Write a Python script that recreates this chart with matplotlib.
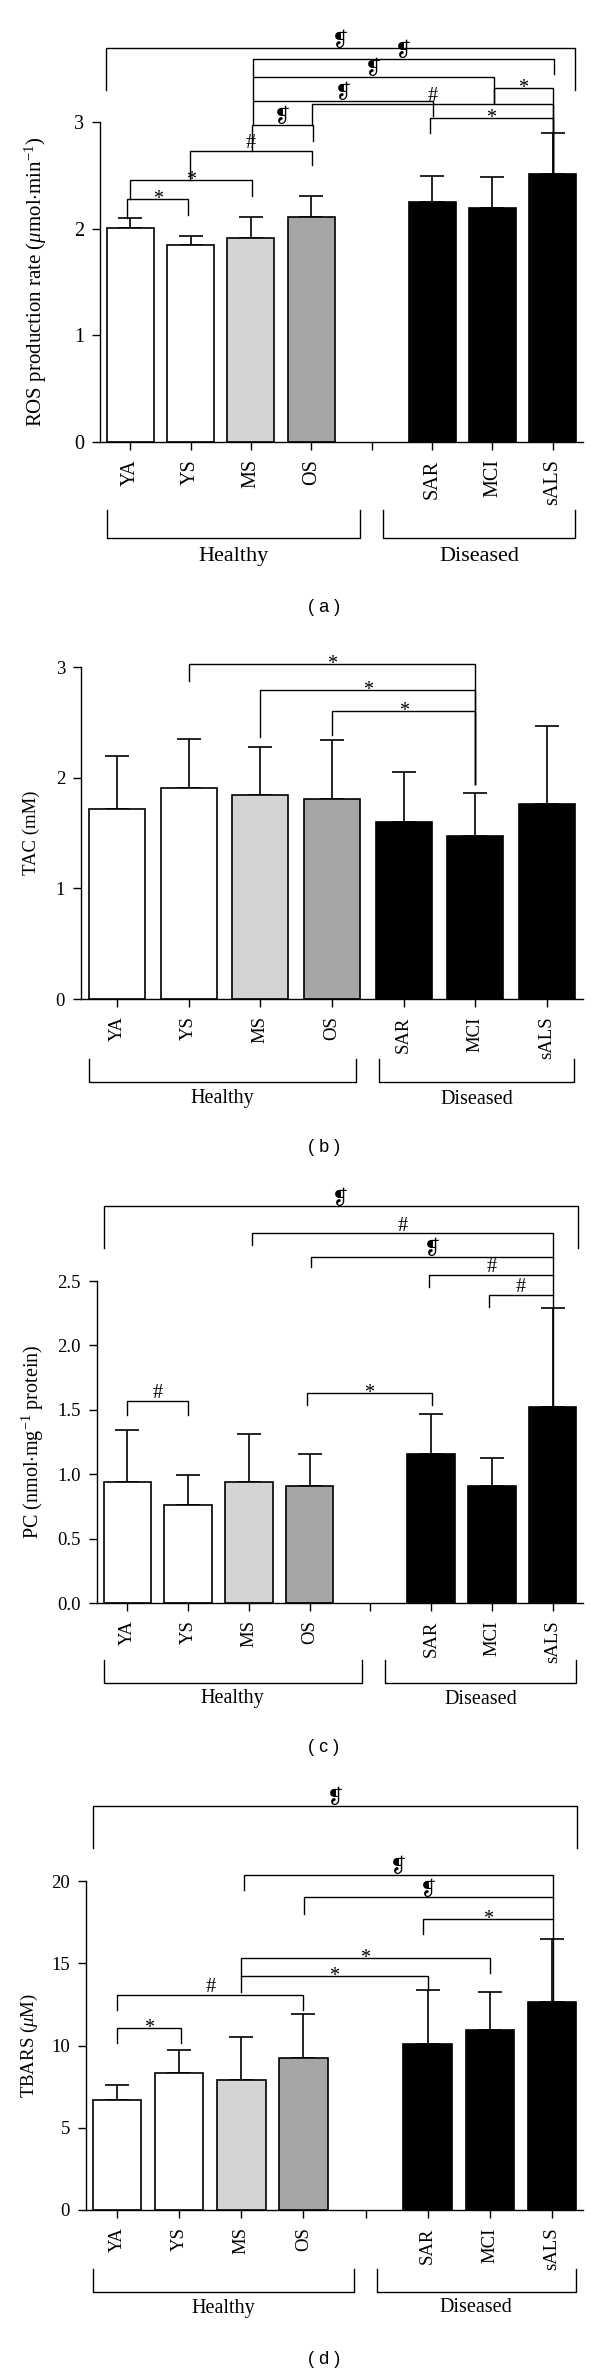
import numpy as np
import matplotlib
matplotlib.use('Agg')
import matplotlib.pyplot as plt
from matplotlib import transforms

#%% data

groups = ['YA', 'YS', 'MS', 'OS', 'SAR', 'MCI', 'sALS']
fill = ['white', 'white', '#d4d4d4', '#a6a6a6', 'black', 'black', 'black']

ros_mean = [2.01, 1.85, 1.91, 2.11, 2.25, 2.19, 2.51]
ros_sd = [0.09, 0.08, 0.20, 0.20, 0.24, 0.29, 0.39]

tac_mean = [1.72, 1.91, 1.84, 1.81, 1.60, 1.47, 1.76]
tac_sd = [0.48, 0.44, 0.44, 0.53, 0.45, 0.39, 0.71]

pc_mean = [0.94, 0.76, 0.94, 0.91, 1.155, 0.91, 1.52]
pc_sd = [0.40, 0.23, 0.37, 0.245, 0.315, 0.215, 0.77]

tbars_mean = [6.70, 8.31, 7.93, 9.25, 10.08, 10.96, 12.66]
tbars_sd = [0.90, 1.39, 2.60, 2.65, 3.29, 2.32, 3.79]

PARA = '\u2761'

# significance brackets: (x left, x right, line y, left leg end, right leg end, mark)
ros_sig = [(-0.05, 0.96, 2.28, 2.10, 2.13, '*'),
           (0, 2.01, 2.455, 2.28, 2.31, '*'),
           (0.99, 3.01, 2.73, 2.455, 2.60, '#'),
           (2.01, 3.03, 2.97, 2.73, 2.82, PARA),
           (2.04, 5.02, 3.20, 2.97, 3.06, PARA),
           (3.01, 7.0, 3.17, 2.97, 2.51, '#'),
           (4.97, 7.0, 3.036, 2.90, 2.51, '*'),
           (2.04, 6.02, 3.42, 3.20, 3.18, PARA),
           (6.02, 7.0, 3.32, 3.18, 2.51, '*'),
           (2.04, 7.02, 3.59, 3.42, 3.45, PARA),
           (-0.40, 7.36, 3.69, 3.30, 3.30, PARA)]

tac_sig = [(1, 5, 3.03, 2.87, 1.94, '*'),
           (2, 5, 2.79, 2.37, 1.94, '*'),
           (3, 5, 2.60, 2.39, 1.94, '*')]

pc_sig = [(0, 1, 1.57, 1.46, 1.46, '#'),
          (2.95, 5.01, 1.63, 1.54, 1.54, '*'),
          (5.95, 7.01, 2.39, 2.30, 1.52, '#'),
          (4.97, 7.01, 2.545, 2.45, 2.39, '#'),
          (3.02, 7.01, 2.69, 2.61, 2.545, PARA),
          (2.05, 7.01, 2.87, 2.78, 2.69, '#'),
          (-0.39, 7.41, 3.08, 2.76, 2.76, PARA)]

tbars_sig = [(0, 1.03, 11.08, 10.13, 10.13, '*'),
             (0, 3.0, 13.09, 12.14, 12.14, '#'),
             (2.0, 5.0, 14.22, 13.28, 13.37, '*'),
             (2.0, 6.0, 15.29, 14.22, 14.39, '*'),
             (4.93, 7.01, 17.70, 16.76, 12.66, '*'),
             (3.01, 7.01, 19.0, 18.0, 17.7, PARA),
             (2.04, 7.01, 20.36, 19.44, 19.0, PARA),
             (-0.38, 7.41, 24.57, 22.0, 22.0, PARA)]

#%% style

plt.rcParams.update({
    'font.family': ['Liberation Serif', 'DejaVu Sans'],
    'mathtext.fontset': 'custom',
    'mathtext.rm': 'Liberation Serif',
    'mathtext.it': 'Liberation Serif:italic',
    'axes.linewidth': 1.0,
    'xtick.major.width': 1.0,
    'ytick.major.width': 1.0,
})

W, H = 600, 2372
fig = plt.figure(figsize=(W / 100, H / 100), dpi=100)


def make_axes(left, right, top, bottom):
    return fig.add_axes([left / W, 1 - bottom / H, (right - left) / W, (bottom - top) / H])


def draw_panel(ax, xpos, mean, sd, sig, ymax, yticks, ylabel, ylab_px,
               spine_px, gap_tick, healthy, diseased, offs, fs_lab=13.5, fs_grp=14.5,
               fs_tick=13.5):
    n = len(mean)
    ax.bar(xpos, mean, width=0.78, color=fill, edgecolor='black', linewidth=1.2, zorder=2)
    ax.errorbar(xpos, mean, yerr=[np.zeros(n), sd], fmt='none', ecolor='black',
                elinewidth=1.2, capsize=8.5, capthick=1.2, zorder=1)
    ax.set_xlim(-0.5, max(xpos) + 0.5)
    ax.set_ylim(0, ymax)
    ticks = list(xpos)
    labels = list(groups)
    if gap_tick is not None:
        ticks.append(gap_tick)
        labels.append('')
    ax.set_xticks(ticks)
    ax.set_xticklabels(labels, rotation=90)
    ax.set_yticks(yticks)
    ax.tick_params(direction='out', length=5.5, labelsize=fs_tick, pad=6)
    ax.tick_params(axis='x', pad=7)
    for s in ['top', 'right']:
        ax.spines[s].set_visible(False)
    ax.set_ylabel(ylabel, fontsize=fs_lab)
    bb = ax.get_position()
    ax.yaxis.set_label_coords((ylab_px - spine_px) / (bb.width * W), 0.5)

    for x1, x2, yl, e1, e2, mark in sig:
        ax.plot([x1, x1, x2, x2], [e1, yl, yl, e2], color='black', lw=1.0,
                clip_on=False, solid_joinstyle='miter')
        dy = -3.5 if mark == '*' else 2
        ax.annotate(mark, ((x1 + x2) / 2, yl), xytext=(0, dy), textcoords='offset points',
                    ha='center', va='baseline', fontsize=14.5, annotation_clip=False)

    # Healthy / Diseased brackets under the axis
    trans = transforms.blended_transform_factory(ax.transData, ax.transAxes)
    ah = bb.height * H
    line_off, leg_off, text_off = offs
    for (g1, g2), name in [(healthy, 'Healthy'), (diseased, 'Diseased')]:
        ax.plot([g1, g1, g2, g2], [-leg_off / ah, -line_off / ah, -line_off / ah, -leg_off / ah],
                color='black', lw=1.0, transform=trans, clip_on=False)
        ax.text((g1 + g2) / 2, -text_off / ah, name, transform=trans, ha='center',
                va='center', fontsize=fs_grp)


gapped = [0, 1, 2, 3, 5, 6, 7]

#%% (a)
ax_a = make_axes(100, 583, 122, 442)
draw_panel(ax_a, gapped, ros_mean, ros_sd, ros_sig, 3, [0, 1, 2, 3],
           r'ROS production rate ($\mu$mol$\cdot$min$^{-1}$)', 49, 100, 4,
           (-0.39, 3.8), (4.18, 7.37), (96, 68, 115), fs_lab=15, fs_grp=16, fs_tick=14.5)

#%% (b)
ax_b = make_axes(81, 583, 667, 999)
draw_panel(ax_b, list(range(7)), tac_mean, tac_sd, tac_sig, 3, [0, 1, 2, 3],
           'TAC (mM)', 40, 81, None, (-0.39, 3.34), (3.66, 6.38), (83, 60, 100))

#%% (c)
ax_c = make_axes(97, 583, 1281, 1603)
draw_panel(ax_c, gapped, pc_mean, pc_sd, pc_sig, 2.5, [0, 0.5, 1.0, 1.5, 2.0, 2.5],
           r'PC (nmol$\cdot$mg$^{-1}$ protein)', 46, 97, 4,
           (-0.39, 3.86), (4.24, 7.38), (80, 57, 96), fs_lab=14.5)
ax_c.set_yticklabels(['0.0', '0.5', '1.0', '1.5', '2.0', '2.5'])

#%% (d)
ax_d = make_axes(86, 583, 1881, 2210)
draw_panel(ax_d, gapped, tbars_mean, tbars_sd, tbars_sig, 20, [0, 5, 10, 15, 20],
           r'TBARS ($\mu$M)', 40, 86, 4,
           (-0.38, 3.81), (4.18, 7.38), (82, 59, 98))

for lab, y in [('( a )', 607), ('( b )', 1148), ('( c )', 1748), ('( d )', 2360)]:
    fig.text(324 / W, 1 - y / H, lab, ha='center', va='center', fontsize=13,
             family='Liberation Sans')

fig.savefig('out.png', dpi=100)
